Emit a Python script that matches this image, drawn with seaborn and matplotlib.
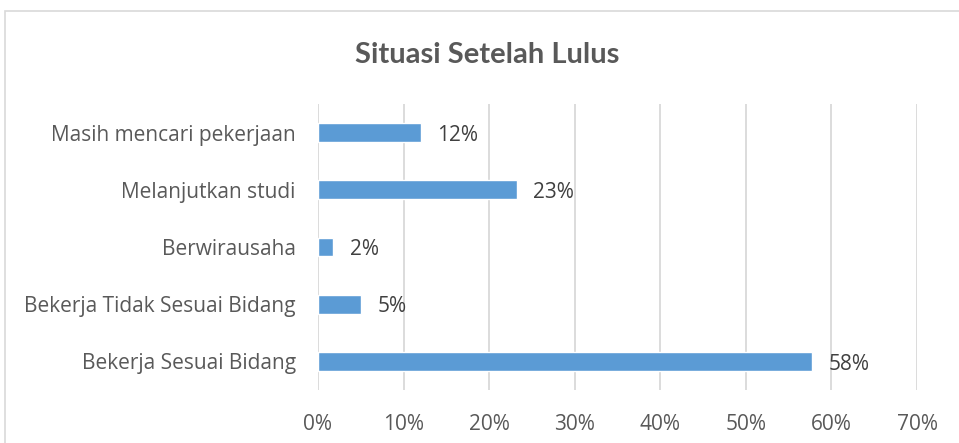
import matplotlib
matplotlib.use("Agg")
import matplotlib.pyplot as plt
import seaborn as sns
import pandas as pd
from matplotlib.patches import Rectangle

categories = ["Masih mencari pekerjaan", "Melanjutkan studi", "Berwirausaha",
              "Bekerja Tidak Sesuai Bidang", "Bekerja Sesuai Bidang"]
values = [12.0, 23.2, 1.8, 5.0, 57.7]
value_labels = ["12%", "23%", "2%", "5%", "58%"]
x_ticks = [0, 10, 20, 30, 40, 50, 60, 70]
x_tick_labels = ["0%", "10%", "20%", "30%", "40%", "50%", "60%", "70%"]
title = "Situasi Setelah Lulus"

sns.set_theme(style="white")
plt.rcParams['font.family'] = ['Open Sans', 'DejaVu Sans']

df = pd.DataFrame({"cat": categories, "val": values})

fig = plt.figure(figsize=(9.59, 4.43), dpi=100)
ax = fig.add_axes([318/959, 1-390/443, (917-318)/959, (390-104)/443])

sns.barplot(data=df, y="cat", x="val", order=categories, color="#5B9BD5",
            width=0.33, saturation=1, ax=ax, zorder=3)

ax.set_xlim(0, 70)
ax.set_ylim(4.5, -0.5)
ax.set_xticks(x_ticks)
ax.set_xticklabels(x_tick_labels)
ax.grid(axis="x", color="#D9D9D9", linewidth=1.3, zorder=0)
ax.grid(axis="y", visible=False)
for s in ax.spines.values():
    s.set_visible(False)
ax.tick_params(axis="x", length=0, pad=17, labelsize=15, labelcolor="#595959")
ax.tick_params(axis="y", length=0, pad=16, labelsize=15, labelcolor="#595959")
ax.set_xlabel("")
ax.set_ylabel("")

for i, (v, lab) in enumerate(zip(values, value_labels)):
    ax.annotate(lab, xy=(v, i), xytext=(12, -2), textcoords="offset points",
                ha="left", va="center", fontsize=15, color="#404040")

fig.text(0.508, 1-55/443, title, ha="center", va="center", fontsize=21,
         fontweight="bold", color="#595959", family=["Lato", "DejaVu Sans"])

fig.patches.append(Rectangle((5/959, -0.2), 1.2, 1.2 - 11/443,
                             transform=fig.transFigure, fill=False,
                             edgecolor="#D9D9D9", linewidth=1.2, zorder=0))

fig.savefig("out.png", dpi=100, facecolor="white")
